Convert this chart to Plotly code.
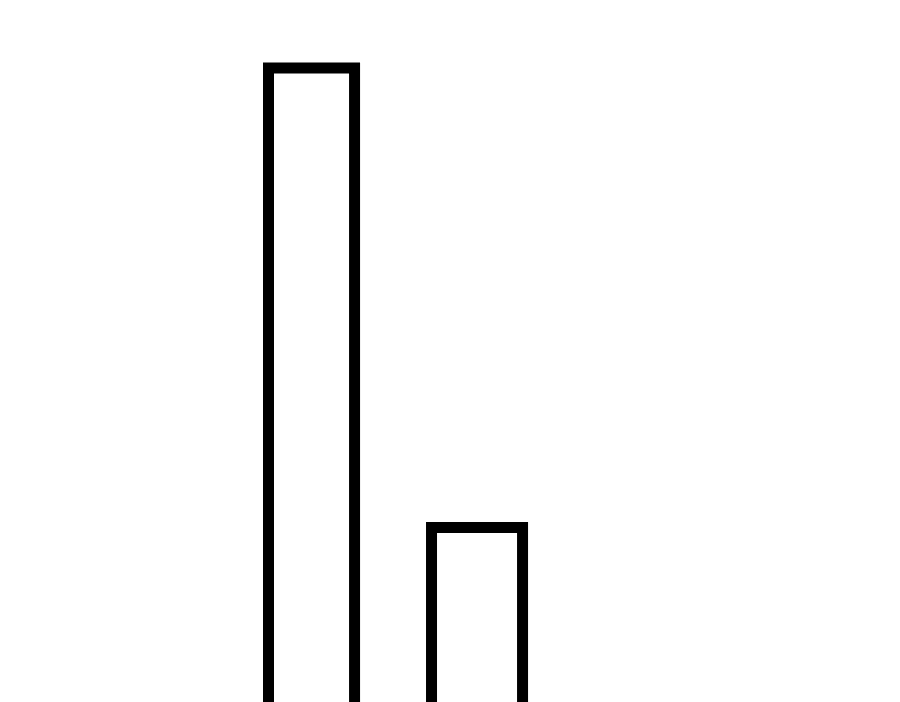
import plotly.graph_objects as go

# two outlined bars, bases run off the bottom of the frame
categories = ["A", "B"]
values = [10, 4]

fig = go.Figure(
    go.Bar(
        x=categories,
        y=values,
        width=[0.52, 0.55],
        marker={"color": "white", "line": {"color": "black", "width": 11}},
        showlegend=False,
    )
)

fig.update_layout(
    width=900,
    height=702,
    margin={"l": 0, "r": 0, "t": 0, "b": 0},
    paper_bgcolor="white",
    plot_bgcolor="white",
    xaxis={"visible": False, "range": [-1.834, 3.604]},
    yaxis={"visible": False, "range": [1.616, 10.782]},
)

fig.write_html("out.html")
